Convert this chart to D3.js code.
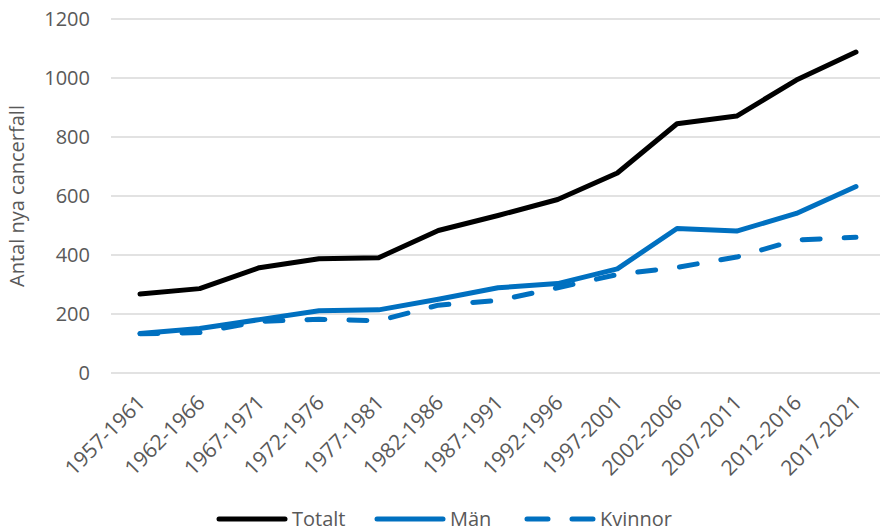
<!DOCTYPE html>
<html lang="sv">
  <head>
    <meta charset="utf-8" />
    <title>Antal nya cancerfall</title>
    <script src="https://d3js.org/d3.v7.min.js"></script>
    <style type="text/css">
      body {
        margin: 0;
        background: #fff;
      }
      text {
        font-family: "Open Sans", "Noto Sans", sans-serif;
        fill: #595959;
      }
    </style>
  </head>
  <body>
    <script type="text/javascript">
      var w = 880;
      var h = 532;

      var periods = [
        "1957-1961", "1962-1966", "1967-1971", "1972-1976", "1977-1981",
        "1982-1986", "1987-1991", "1992-1996", "1997-2001", "2002-2006",
        "2007-2011", "2012-2016", "2017-2021"
      ];
      var totalt = [268, 286, 357, 387, 391, 483, 534, 588, 678, 845, 871, 993, 1088];
      var man = [134, 151, 181, 211, 214, 250, 289, 303, 353, 490, 481, 541, 632];
      var kvinnor = [133, 137, 175, 182, 177, 230, 246, 289, 334, 358, 393, 451, 460];
      var yTicks = [0, 200, 400, 600, 800, 1000, 1200];

      var series = [
        { name: "Totalt", values: totalt, color: "#000000", dash: null },
        { name: "Män", values: man, color: "#0070C0", dash: null },
        { name: "Kvinnor", values: kvinnor, color: "#0070C0", dash: "18,24" }
      ];

      var plotLeft = 111, plotRight = 880, plotTop = 19, plotBottom = 373;

      var x = d3.scalePoint()
        .domain(periods)
        .range([140, 856]);

      var y = d3.scaleLinear()
        .domain([0, 1200])
        .range([plotBottom, plotTop]);

      var svg = d3.select("body")
        .append("svg")
        .attr("width", w)
        .attr("height", h);

      //Gridlines
      svg.append("g")
        .selectAll("line")
        .data(yTicks)
        .enter()
        .append("line")
        .attr("x1", plotLeft)
        .attr("x2", plotRight)
        .attr("y1", function (d) { return y(d); })
        .attr("y2", function (d) { return y(d); })
        .attr("stroke", "#d9d9d9")
        .attr("stroke-width", 1.5);

      //Y axis
      var yAxis = svg.append("g")
        .attr("transform", "translate(" + (plotLeft - 21) + ",0)")
        .call(d3.axisLeft(y).tickValues(yTicks).tickFormat(d3.format("d")).tickSize(0).tickPadding(0));
      yAxis.select(".domain").remove();
      yAxis.selectAll("text")
        .style("font-size", "20px")
        .attr("fill", "#595959");

      //X axis
      var xAxis = svg.append("g")
        .attr("transform", "translate(0," + plotBottom + ")")
        .call(d3.axisBottom(x).tickSize(0).tickPadding(0));
      xAxis.select(".domain").remove();
      xAxis.selectAll("text")
        .style("font-size", "21px")
        .attr("fill", "#595959")
        .attr("text-anchor", "end")
        .attr("dy", null)
        .attr("transform", "translate(6,31) rotate(-45)");

      //Y title
      svg.append("text")
        .attr("transform", "translate(24," + (plotTop + plotBottom) / 2 + ") rotate(-90)")
        .attr("text-anchor", "middle")
        .style("font-size", "20px")
        .text("Antal nya cancerfall");

      //Lines
      var line = d3.line()
        .x(function (d, i) { return x(periods[i]); })
        .y(function (d) { return y(d); });

      svg.append("g")
        .selectAll("path")
        .data(series)
        .enter()
        .append("path")
        .attr("d", function (d) { return line(d.values); })
        .attr("fill", "none")
        .attr("stroke", function (d) { return d.color; })
        .attr("stroke-width", 5)
        .attr("stroke-linejoin", "round")
        .attr("stroke-linecap", "round")
        .attr("stroke-dasharray", function (d) { return d.dash; });

      //Legend
      var legendX = [219, 377, 527];
      var legend = svg.append("g")
        .selectAll("g")
        .data(series)
        .enter()
        .append("g")
        .attr("transform", function (d, i) { return "translate(" + legendX[i] + ",519)"; });

      legend.append("line")
        .attr("x1", 0)
        .attr("x2", 66)
        .attr("stroke", function (d) { return d.color; })
        .attr("stroke-width", 5)
        .attr("stroke-linecap", "round")
        .attr("stroke-dasharray", function (d) { return d.dash ? "21,24" : null; });

      legend.append("text")
        .attr("x", 73)
        .attr("dy", "0.35em")
        .style("font-size", "20px")
        .text(function (d) { return d.name; });
    </script>
  </body>
</html>
